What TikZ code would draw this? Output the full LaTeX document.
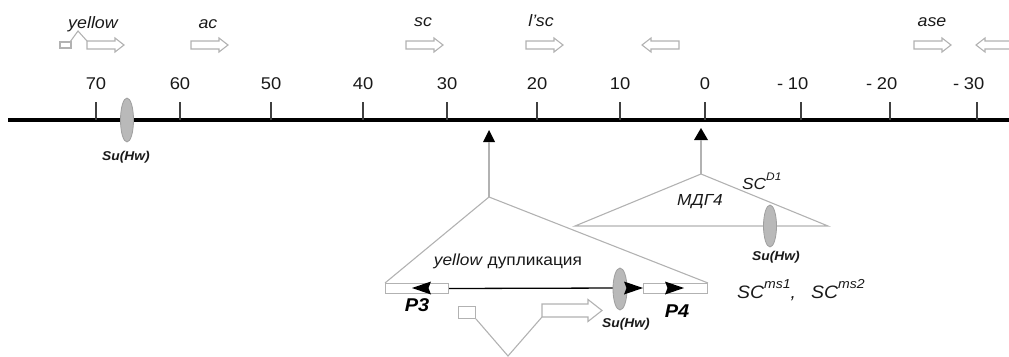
\documentclass[tikz,border=0pt]{standalone}
\usepackage{fontspec}
\setmainfont{Liberation Sans}[FakeStretch=1.08]
\begin{document}
\begin{tikzpicture}[x=1pt,y=-1pt,
  gl/.style={draw=gray!60, line width=1.1pt},
  genebox/.style={draw=gray!60, line width=1.1pt, fill=white},
  tickline/.style={draw=black!75, line width=1.3pt},
  num/.style={font=\fontsize{17}{19}\selectfont, inner sep=0, anchor=base, text=black!90},
  gname/.style={font=\fontsize{16.5}{18}\selectfont\itshape, inner sep=0, anchor=base, text=black!90},
  suhw/.style={font=\fontsize{12.8}{14}\selectfont\bfseries\itshape, inner sep=0, anchor=base, text=black!90},
  pname/.style={font=\fontsize{18.5}{20}\selectfont\bfseries\itshape, inner sep=0, anchor=base},
  lbl/.style={font=\fontsize{16}{18}\selectfont, inner sep=0, anchor=base, text=black!90},
  sclbl/.style={font=\fontsize{18}{20}\selectfont\itshape, inner sep=0, anchor=base west, text=black!90},
  insul/.style={draw=gray!75, fill=gray!55, line width=0.8pt},
  pointer/.style={fill=black},
  head/.style={fill=black},
  genR/.pic={\path[genebox] (0,-4) -- (28,-4) -- (28,-7) -- (37,0) -- (28,7) -- (28,4) -- (0,4) -- cycle;},
  bigR/.pic={\path[genebox] (0,-6.5) -- (46,-6.5) -- (46,-11) -- (60,0) -- (46,11) -- (46,6.5) -- (0,6.5) -- cycle;}
]
\useasboundingbox (0,0) rectangle (1009,356);

% ---- genes on top ----
\draw[genebox] (60,42) rectangle (71,48);
\draw[gl] (70,42) -- (78,31) -- (87,41);
\pic at (87,45) {genR};
\pic at (191,45) {genR};
\pic at (406,45) {genR};
\pic at (526,45) {genR};
\pic[xscale=-1] at (679,45) {genR};
\pic at (914,45) {genR};
\pic[xscale=-1] at (1013,45) {genR};

\node[gname] (gy) at (93,28) {yellow};
\node[gname] (gac) at (208,28) {ac};
\node[gname] (gsc) at (423,27) {sc};
\node[gname] (glsc) at (541,27) {l’sc};
\node[gname] (gase) at (932,27) {ase};

% ---- scale line ----
\draw[line width=4pt] (8,120) -- (1009,120);
\foreach \x/\l [count=\i] in {96/70,180/60,271/50,363/40,447/30,537/20,620/10,705/0}{
  \draw[tickline] (\x,102) -- (\x,120);
  \node[num] (n\i) at (\x,89) {\l};
}
\foreach \x/\l [count=\i] in {801/10,890/20,977/30}{
  \draw[tickline] (\x,102) -- (\x,120);
  \node[num] (m\i) at (\x-3,89) {\makebox[0pt][r]{-\hspace{4.5pt}}\l};
}

% Su(Hw) on the main line
\draw[insul] (127,120) ellipse [x radius=6.5, y radius=22];
\node[suhw] (s1) at (126,160) {Su(Hw)};

% ---- insertion pointers ----
\coordinate (pA) at (489,142);
\coordinate (tA) at (489,197);
\coordinate (pB) at (701,140);
\coordinate (tB) at (701,174);
\fill[pointer] (489,130) -- (495,142) -- (483,142) -- cycle;
\fill[pointer] (701,128) -- (708,140) -- (694,140) -- cycle;
\draw[gl] (pA) -- (tA);
\draw[gl] (pB) -- (tB);

% ---- MDG4 triangle ----
\coordinate (mL) at (575,226);
\coordinate (mR) at (828,226);
\draw[gl] (tB) -- (mL) -- (mR) -- cycle;
\draw[insul] (770,226) ellipse [x radius=6.5, y radius=21];
\node[suhw] (s2) at (776,260) {Su(Hw)};
\node[lbl, font=\fontsize{16}{18}\selectfont\itshape] (mdg) at (700,205) {МДГ4};
\node[sclbl, font=\fontsize{16}{18}\selectfont\itshape] (scd) at (742,189) {SC\raisebox{9pt}{\fontsize{11}{12}\selectfont D1}};

% ---- yellow duplication ----
\node[draw=gray!60, line width=1pt, fill=white, minimum width=63pt, minimum height=10pt, inner sep=0, anchor=north west] (bL) at (385,283) {};
\node[draw=gray!60, line width=1pt, fill=white, minimum width=64pt, minimum height=10pt, inner sep=0, anchor=north west] (bR) at (643,283) {};
\draw[gl] (tA) -- (bL.north west);
\draw[gl] (tA) -- (bR.north east);
\draw[line width=1.3pt] (bL.east) -- (622,288);
\draw[insul] (620,289) ellipse [x radius=7, y radius=21];
\fill[head] (412,288) -- (431,281.5) -- (428.5,288) -- (431,294.5) -- cycle;
\fill[head] (643,288) -- (624,281.5) -- (626.5,288) -- (624,294.5) -- cycle;
\fill[head] (684,288) -- (665,281.5) -- (667.5,288) -- (665,294.5) -- cycle;
\node[lbl] (ydup) at (508,265) {\textit{yellow} дупликация};
\node[pname] (p3) at (417,311) {P3};
\node[pname] (p4) at (677,317) {P4};
\node[suhw] (s3) at (626,327) {Su(Hw)};

\node[sclbl] (ms1) at (737,298) {SC\raisebox{10pt}{\fontsize{13}{14}\selectfont ms1},};
\node[sclbl] (ms2) at (811,298) {SC\raisebox{10pt}{\fontsize{13}{14}\selectfont ms2}};

% ---- small gene below ----
\node[draw=gray!60, line width=1pt, fill=white, minimum width=17pt, minimum height=12pt, inner sep=0, anchor=north west] (sb) at (458,306) {};
\coordinate (v) at (508,356);
\coordinate (ga) at (542,317);
\draw[gl] (sb.south east) -- (v) -- (ga);
\pic at (542,310.5) {bigR};
\end{tikzpicture}
\end{document}
